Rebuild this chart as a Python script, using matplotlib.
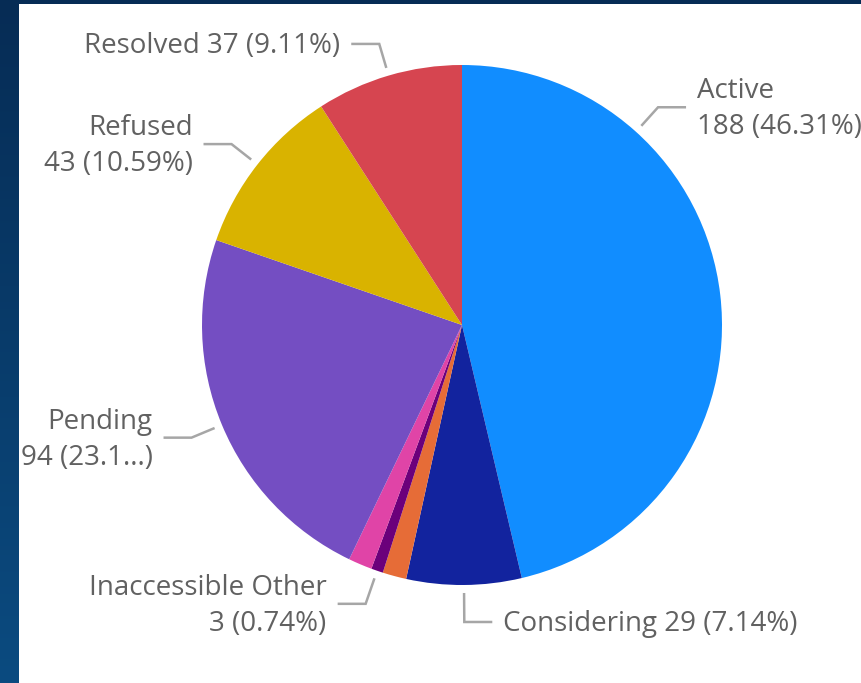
import numpy as np
import matplotlib
matplotlib.use("Agg")
import matplotlib.pyplot as plt
from matplotlib.patches import Rectangle
from matplotlib.colors import LinearSegmentedColormap

# Case status breakdown
categories = ["Active", "Considering", "Deferred", "Inaccessible Other",
              "Withdrawn", "Pending", "Refused", "Resolved"]
counts = [188, 29, 6, 3, 6, 94, 43, 37]
colors = ["#118DFF", "#12239E", "#E66C37", "#6B007B",
          "#E044A7", "#744EC2", "#D9B300", "#D64550"]
# Data labels shown on the chart (None = slice not labelled)
label_texts = {
    "Active": "Active\n188 (46.31%)",
    "Considering": "Considering 29 (7.14%)",
    "Inaccessible Other": "Inaccessible Other\n3 (0.74%)",
    "Pending": "Pending\n94 (23.1...)",
    "Refused": "Refused\n43 (10.59%)",
    "Resolved": "Resolved 37 (9.11%)",
}

W, H = 861, 683
fig = plt.figure(figsize=(W / 100, H / 100), dpi=100)

# Dark blue report background with a soft gradient
bg = fig.add_axes([0, 0, 1, 1])
bg.set_axis_off()
grad = np.linspace(0, 1, 256).reshape(-1, 1) * np.ones((1, 64))
cmap = LinearSegmentedColormap.from_list("bg", ["#062c55", "#0b4b80"])
bg.imshow(grad, cmap=cmap, aspect="auto", extent=[0, 1, 0, 1], origin="upper")
bg.set_xlim(0, 1)
bg.set_ylim(0, 1)

ax = fig.add_axes([0, 0, 1, 1])
ax.set_axis_off()

# White visual card
ax.add_patch(Rectangle((19, 0), W - 19 + 5, H - 4, facecolor="white",
                       edgecolor="none", zorder=0))

cx, cy, r = 462, H - 325, 260
wedges, _ = ax.pie(counts, colors=colors, startangle=90, counterclock=False,
                   center=(cx, cy), radius=r, frame=True,
                   wedgeprops=dict(linewidth=0, antialiased=True))
ax.set_xlim(0, W)
ax.set_ylim(0, H)
ax.set_aspect("auto")
ax.set_axis_off()

font = "Open Sans"
text_color = "#616161"
line_color = "#a6a6a6"
angle_override = {"Active": 48.0}
elbow_extra = {"Considering": 4, "Inaccessible Other": 2}

for name, w in zip(categories, wedges):
    if name not in label_texts:
        continue
    theta = angle_override.get(name, 0.5 * (w.theta1 + w.theta2))
    t = np.deg2rad(theta)
    ux, uy = np.cos(t), np.sin(t)
    g1 = 33 + elbow_extra.get(name, 0)
    x0, y0 = cx + (r + 8) * ux, cy + (r + 8) * uy
    x1, y1 = cx + (r + g1) * ux, cy + (r + g1) * uy
    side = 1 if ux >= 0 else -1
    if name == "Considering":
        side = 1
    x2 = x1 + side * 28
    ax.plot([x0, x1, x2], [y0, y1, y1], color=line_color, lw=1.8,
            solid_joinstyle="miter", solid_capstyle="butt", zorder=3)
    tx = x2 + side * 11
    ax.text(tx, y1 - 2, label_texts[name], ha="left" if side > 0 else "right",
            va="center", multialignment="left" if side > 0 else "right",
            fontsize=20, family=font, color=text_color, linespacing=1.37,
            zorder=4)

fig.savefig("out.png", dpi=100)
